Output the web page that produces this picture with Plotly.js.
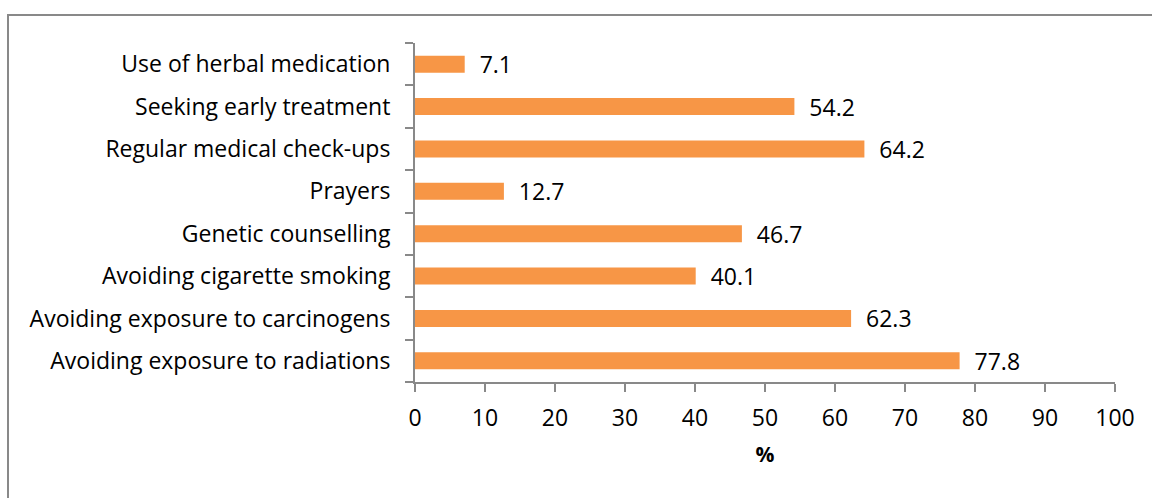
<!DOCTYPE html>
<html><head><meta charset="utf-8">
<script src="https://cdn.plot.ly/plotly-3.0.1.min.js"></script>
<style>
html,body{margin:0;padding:0;overflow:hidden;background:#fff;width:1152px;height:498px;}
#frame{position:absolute;left:7px;top:14px;width:1300px;height:700px;border:2px solid #898989;box-sizing:border-box;}
#chart{position:absolute;left:0;top:0;width:1152px;height:498px;}
</style></head>
<body>
<div id="frame"></div>
<div id="chart"></div>
<script>
const categories = [
  "Avoiding exposure to radiations",
  "Avoiding exposure to carcinogens",
  "Avoiding cigarette smoking",
  "Genetic counselling",
  "Prayers",
  "Regular medical check-ups",
  "Seeking early treatment",
  "Use of herbal medication"
];
const values = [77.8, 62.3, 40.1, 46.7, 12.7, 64.2, 54.2, 7.1];
const xTicks = [0,10,20,30,40,50,60,70,80,90,100];

const font = "Open Sans, Noto Sans, sans-serif";
const fs = 23;
const trace = {
  type: "bar",
  orientation: "h",
  y: categories,
  x: values,
  marker: {color: "#F79646"},
  text: values.map(v => "\u00a0\u00a0" + v.toFixed(1)),
  textposition: "outside",
  constraintext: "none",
  cliponaxis: false,
  textfont: {family: font, size: fs, color: "#000"},
  hoverinfo: "none"
};
const layout = {
  width: 1152, height: 498,
  margin: {l: 415, r: 37, t: 43, b: 116},
  paper_bgcolor: "rgba(0,0,0,0)",
  plot_bgcolor: "rgba(0,0,0,0)",
  bargap: 0.6,
  showlegend: false,
  font: {family: font, size: fs, color: "#000"},
  xaxis: {
    range: [0, 100],
    tickvals: xTicks,
    ticktext: xTicks.map(String),
    showgrid: false, zeroline: false,
    showline: true, linecolor: "#898989", linewidth: 2,
    ticks: "outside", ticklen: 8, tickwidth: 2, tickcolor: "#898989",
    ticklabelstandoff: 6,
    tickfont: {family: font, size: fs, color: "#000"},
    title: {text: "<b>%</b>", font: {family: font, size: 21, color: "#000"}, standoff: 16},
    fixedrange: true
  },
  yaxis: {
    categoryorder: "array", categoryarray: categories,
    showgrid: false, zeroline: false,
    showline: true, linecolor: "#898989", linewidth: 2,
    ticks: "outside", ticklen: 8, tickwidth: 2, tickcolor: "#898989",
    tickson: "boundaries",
    ticklabelstandoff: 18,
    tickfont: {family: font, size: fs, color: "#000"},
    fixedrange: true
  }
};
Plotly.newPlot("chart", [trace], layout, {displayModeBar: false, staticPlot: true});
</script>
</body></html>
